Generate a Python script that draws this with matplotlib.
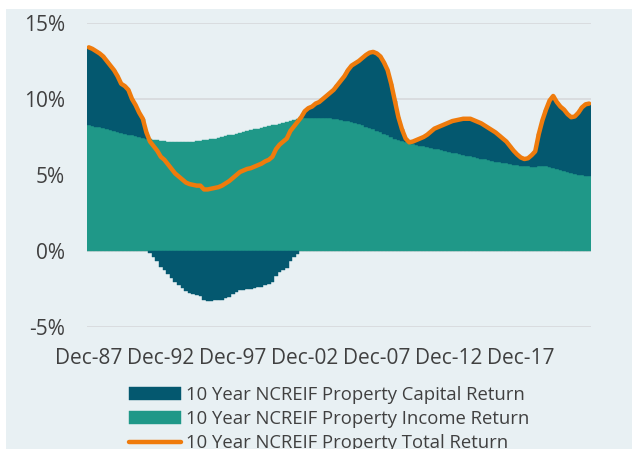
import numpy as np
import matplotlib.pyplot as plt
from matplotlib.patches import Rectangle

# Rolling 10-year NCREIF returns (%), quarterly from Dec-87
income_return = [
    8.26, 8.22, 8.18, 8.14, 8.10, 8.05, 7.98, 7.90, 7.82, 7.75,
    7.70, 7.65, 7.60, 7.55, 7.50, 7.45, 7.40, 7.36, 7.32, 7.28,
    7.25, 7.22, 7.19, 7.17, 7.15, 7.15, 7.15, 7.16, 7.18, 7.20,
    7.22, 7.25, 7.28, 7.32, 7.36, 7.40, 7.45, 7.50, 7.55, 7.60,
    7.66, 7.72, 7.78, 7.84, 7.90, 7.95, 8.00, 8.05, 8.10, 8.15,
    8.20, 8.26, 8.32, 8.38, 8.44, 8.50, 8.56, 8.62, 8.68, 8.72,
    8.75, 8.76, 8.77, 8.77, 8.77, 8.76, 8.75, 8.73, 8.70, 8.66,
    8.62, 8.57, 8.52, 8.46, 8.40, 8.33, 8.26, 8.18, 8.10, 8.00,
    7.90, 7.80, 7.70, 7.60, 7.50, 7.40, 7.30, 7.22, 7.16, 7.12,
    7.06, 6.98, 6.92, 6.88, 6.83, 6.78, 6.72, 6.68, 6.62, 6.57,
    6.52, 6.47, 6.42, 6.37, 6.32, 6.27, 6.22, 6.17, 6.12, 6.07,
    6.02, 5.97, 5.92, 5.88, 5.84, 5.80, 5.76, 5.72, 5.68, 5.64,
    5.60, 5.58, 5.56, 5.55, 5.55, 5.56, 5.57, 5.56, 5.52, 5.47,
    5.40, 5.32, 5.24, 5.18, 5.12, 5.07, 5.03, 4.99, 4.95, 4.92,
]
total_return = [
    13.40, 13.30, 13.15, 13.00, 12.80, 12.50, 12.20, 11.90, 11.50, 11.00,
    10.85, 10.60, 10.00, 9.60, 9.10, 8.70, 7.80, 7.20, 6.90, 6.60,
    6.20, 6.00, 5.70, 5.40, 5.10, 4.90, 4.70, 4.50, 4.40, 4.35,
    4.30, 4.30, 4.05, 4.05, 4.10, 4.15, 4.20, 4.30, 4.45, 4.60,
    4.80, 5.00, 5.20, 5.30, 5.40, 5.45, 5.55, 5.65, 5.75, 5.90,
    6.00, 6.20, 6.70, 7.00, 7.20, 7.40, 7.90, 8.20, 8.50, 8.80,
    9.20, 9.40, 9.50, 9.70, 9.80, 10.00, 10.20, 10.40, 10.60, 10.90,
    11.20, 11.50, 11.90, 12.20, 12.35, 12.50, 12.70, 12.90, 13.05, 13.10,
    13.00, 12.80, 12.40, 11.90, 11.00, 9.90, 8.80, 8.00, 7.40, 7.15,
    7.20, 7.30, 7.40, 7.50, 7.65, 7.85, 8.05, 8.15, 8.25, 8.35,
    8.45, 8.55, 8.60, 8.65, 8.70, 8.70, 8.70, 8.60, 8.50, 8.40,
    8.25, 8.10, 7.95, 7.80, 7.60, 7.40, 7.20, 6.90, 6.60, 6.35,
    6.15, 6.05, 6.10, 6.30, 6.55, 7.70, 8.60, 9.30, 9.90, 10.20,
    9.80, 9.50, 9.30, 9.00, 8.80, 8.85, 9.10, 9.45, 9.65, 9.70,
]
tick_labels = ["Dec-87", "Dec-92", "Dec-97", "Dec-02", "Dec-07", "Dec-12", "Dec-17"]
y_ticks = [-5, 0, 5, 10, 15]

capital_name = "10 Year NCREIF Property Capital Return"
income_name = "10 Year NCREIF Property Income Return"
total_name = "10 Year NCREIF Property Total Return"

c_capital = "#04586f"
c_income = "#1f9888"
c_total = "#ef7b0c"
c_bg = "#e8f0f3"
c_text = "#404040"

plt.rcParams["font.family"] = ["Open Sans", "DejaVu Sans"]

income = np.array(income_return)
total = np.array(total_return)
capital = total - income
x = np.arange(len(income))

fig = plt.figure(figsize=(6.32, 4.49), dpi=100, facecolor="white")
fig.patches.append(Rectangle((6 / 632, 0), 1, 1 - 9 / 449, transform=fig.transFigure,
                             facecolor=c_bg, edgecolor="none", zorder=-10))

ax = fig.add_axes([87 / 632, 1 - 327 / 449, (591 - 87) / 632, (327 - 23) / 449])
ax.set_facecolor("none")

# Excel-style stacked columns: negatives stack below zero
cap_bottom = np.where(capital >= 0, income, 0)
bars_inc = ax.bar(x, income, width=1.0, color=c_income, edgecolor=c_income,
                  linewidth=0.3, zorder=2)
bars_cap = ax.bar(x, capital, bottom=cap_bottom, width=1.0, color=c_capital,
                  edgecolor=c_capital, linewidth=0.3, zorder=2)
line_tot, = ax.plot(x, total, color=c_total, linewidth=3.2, solid_capstyle="round",
                    solid_joinstyle="round", zorder=3)

ax.set_xlim(-0.5, len(x) - 0.5)
ax.set_ylim(-5, 15)
ax.set_yticks(y_ticks)
ax.set_yticklabels([f"{v}%" for v in y_ticks])
ax.set_xticks(np.arange(len(tick_labels)) * 20)
ax.set_xticklabels(tick_labels)
ax.grid(axis="y", color="#d6d9db", linewidth=1.2, zorder=0)
ax.set_axisbelow(True)
for s in ax.spines.values():
    s.set_visible(False)
ax.tick_params(axis="both", length=0, labelsize=15, labelcolor=c_text)
ax.tick_params(axis="y", pad=16)
ax.tick_params(axis="x", pad=15)

fig.legend([bars_cap, bars_inc, line_tot], [capital_name, income_name, total_name],
           loc="upper left", bbox_to_anchor=(120 / 632, 1 - 377 / 449),
           frameon=False, fontsize=13.3, labelcolor=c_text,
           handlelength=2.8, handleheight=0.7, handletextpad=0.3,
           labelspacing=0.33, borderpad=0)

fig.savefig("out.png", dpi=100, facecolor=fig.get_facecolor())
